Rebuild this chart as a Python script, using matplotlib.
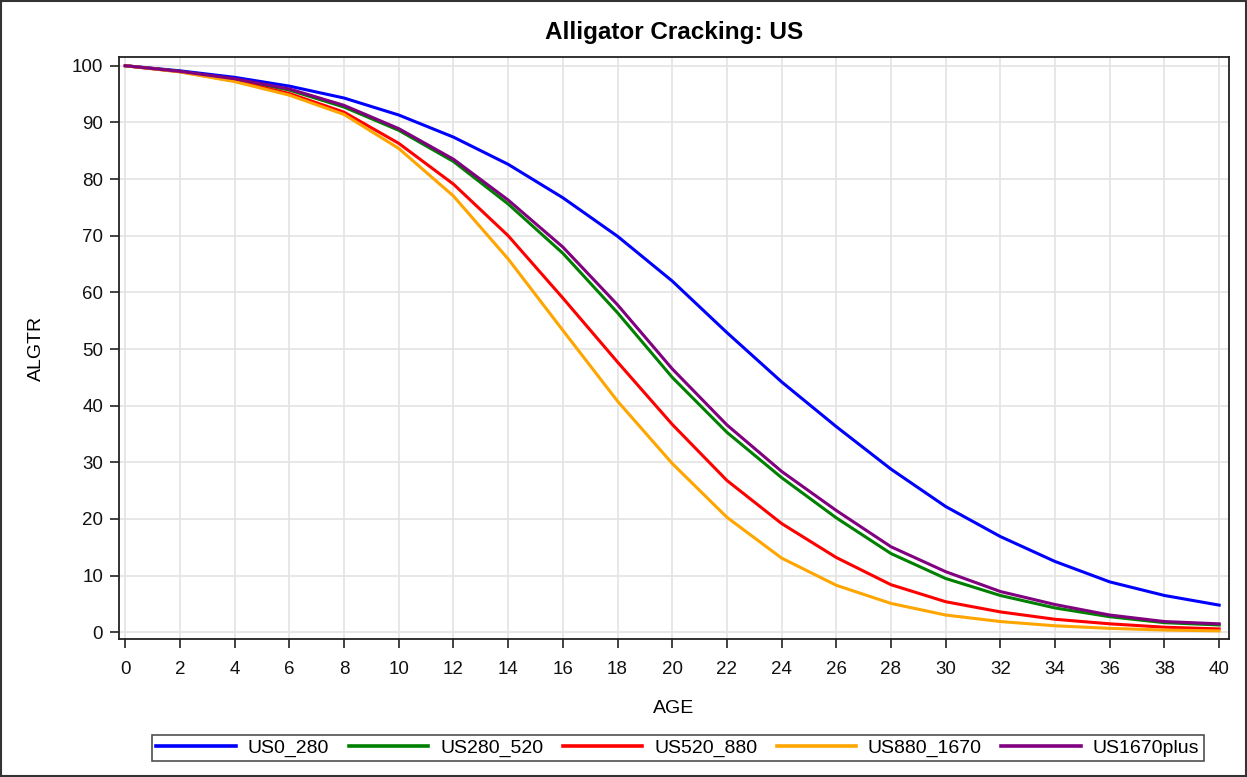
import matplotlib
matplotlib.use("Agg")
import matplotlib.pyplot as plt
from matplotlib.patches import Rectangle

plt.rcParams['font.family'] = ['Liberation Sans', 'DejaVu Sans']

ages = [0, 2, 4, 6, 8, 10, 12, 14, 16, 18, 20, 22, 24, 26, 28, 30, 32, 34, 36, 38, 40]

us0_280 = [100, 99.1, 97.95, 96.4, 94.3, 91.3, 87.4, 82.6, 76.7, 69.9, 62.0, 52.9,
           44.2, 36.3, 28.8, 22.2, 16.9, 12.5, 8.9, 6.5, 4.8]
us280_520 = [100, 99.0, 97.6, 95.7, 92.7, 88.6, 83.1, 75.6, 66.9, 56.4, 45.0, 35.3,
             27.3, 20.2, 13.9, 9.5, 6.5, 4.3, 2.75, 1.7, 1.3]
us520_880 = [100, 98.95, 97.3, 95.1, 91.8, 86.3, 79.1, 70.0, 59.0, 47.7, 36.7, 26.8,
             19.2, 13.2, 8.4, 5.4, 3.6, 2.3, 1.5, 0.9, 0.6]
us880_1670 = [100, 98.9, 97.2, 94.8, 91.4, 85.4, 77.0, 65.9, 53.3, 40.8, 29.8, 20.3,
              13.1, 8.3, 5.1, 3.05, 1.9, 1.15, 0.7, 0.4, 0.25]
us1670plus = [100, 99.0, 97.7, 95.9, 93.0, 88.9, 83.5, 76.3, 68.0, 57.8, 46.5, 36.6,
              28.4, 21.5, 15.1, 10.7, 7.2, 4.9, 3.05, 1.9, 1.5]

series = [
    ("US0_280", us0_280, "#0000ff"),
    ("US280_520", us280_520, "#008000"),
    ("US520_880", us520_880, "#ff0000"),
    ("US880_1670", us880_1670, "#ffa500"),
    ("US1670plus", us1670plus, "#800080"),
]

xticks = list(range(0, 41, 2))
yticks = list(range(0, 101, 10))

fig = plt.figure(figsize=(12.47, 7.77), dpi=100)
ax = fig.add_axes([119/1247, 1-639/777, (1229-119)/1247, (639-57)/777])

for name, vals, col in series:
    ax.plot(ages, vals, color=col, lw=2.2, label=name, solid_joinstyle='round')

ax.set_xlim(-0.23, 40.36)
ax.set_ylim(-1.18, 101.54)
ax.set_xticks(xticks)
ax.set_yticks(yticks)
ax.grid(True, color='#e3e3e3', lw=1.2)
ax.set_axisbelow(True)
for s in ax.spines.values():
    s.set_color('#222222')
    s.set_linewidth(1.3)
ax.tick_params(axis='both', direction='out', length=6.5, width=1.2, color='#222222',
               labelsize=13.5, labelcolor='#111111')
ax.tick_params(axis='x', pad=9.5)
ax.tick_params(axis='y', pad=5)

ax.set_title("Alligator Cracking: US", fontsize=17.5, fontweight='bold', pad=13)
ax.set_xlabel("AGE", fontsize=14, labelpad=16)
ax.set_ylabel("ALGTR", fontsize=14, labelpad=19)

leg = ax.legend(loc='upper center', bbox_to_anchor=(0.5035, -0.165), ncol=5,
                frameon=True, fancybox=False, fontsize=14, handlelength=4.1,
                handletextpad=0.6, columnspacing=1.0, borderpad=0.22,
                borderaxespad=0)
leg.get_frame().set_edgecolor('#222222')
leg.get_frame().set_linewidth(1.2)
for line in leg.get_lines():
    line.set_linewidth(2.6)

fig.patches.append(Rectangle((0.001, 0.001), 0.998, 0.998, transform=fig.transFigure,
                             fill=False, edgecolor='#333333', lw=1.5))

fig.savefig("out.png", dpi=100)
